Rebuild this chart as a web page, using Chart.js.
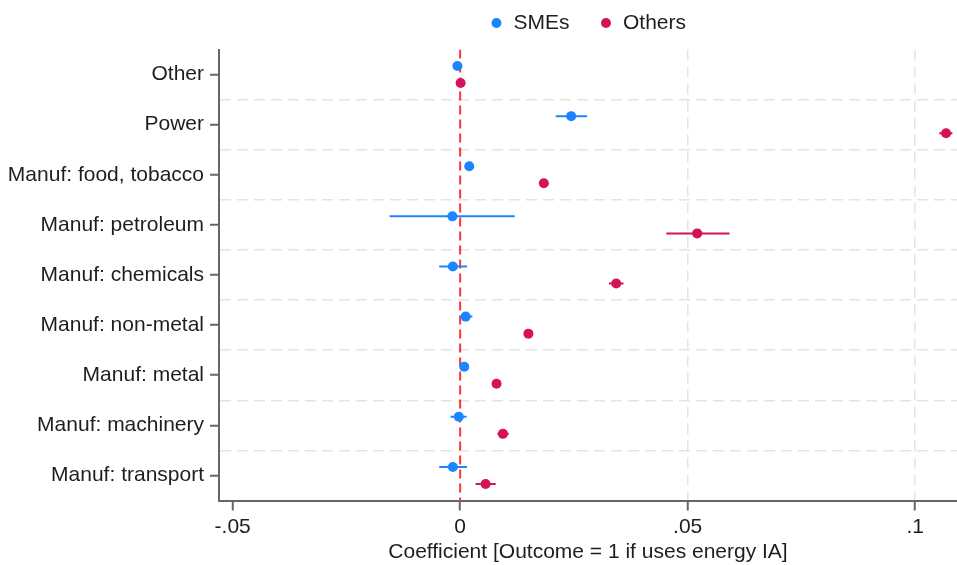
<!DOCTYPE html>
<html>
<head>
<meta charset="utf-8">
<script src="https://cdn.jsdelivr.net/npm/chart.js@4"></script>
<style>
  html, body { margin: 0; padding: 0; background: #ffffff; }
  #wrap { width: 957px; height: 565px; }
</style>
</head>
<body>
<div id="wrap"><canvas id="c" width="957" height="565"></canvas></div>
<script>
// ---- data ----
const categories = ["Other", "Power", "Manuf: food, tobacco", "Manuf: petroleum", "Manuf: chemicals",
                    "Manuf: non-metal", "Manuf: metal", "Manuf: machinery", "Manuf: transport"];
const smeCoef  = [-0.0006, 0.0244, 0.0020, -0.0017, -0.0016, 0.0012, 0.0009, -0.0003, -0.0016];
const smeLo    = [-0.0008, 0.0210, 0.0012, -0.0155, -0.0046, 0.0001, 0.0002, -0.0021, -0.0046];
const smeHi    = [-0.0004, 0.0279, 0.0028,  0.0120,  0.0015, 0.0027, 0.0016,  0.0014,  0.0015];
const othCoef  = [0.0001, 0.1068, 0.0184, 0.0521, 0.0343, 0.0150, 0.0080, 0.0094, 0.0056];
const othLo    = [-0.0001, 0.1053, 0.0176, 0.0453, 0.0327, 0.0142, 0.0073, 0.0082, 0.0034];
const othHi    = [0.0003, 0.1082, 0.0192, 0.0592, 0.0359, 0.0158, 0.0087, 0.0107, 0.0078];
const xTickValues = [-0.05, 0, 0.05, 0.1];
const xTickLabels = ["-.05", "0", ".05", ".1"];
const seriesNames = ["SMEs", "Others"];
const xTitle = "Coefficient [Outcome = 1 if uses energy IA]";

// ---- styling ----
const BLUE = "#1a85ff";
const RED = "#d41159";
const ZERO = "#ff3333";
const AXIS = "#666666";
const GRID = "#e4e4e4";
const TXT = "#1e1e1e";
const FONT = { family: "'Liberation Sans', Arial, sans-serif", size: 21 };
const OFF = 0.17;

const pts = (vals, off) => vals.map((v, i) => ({ x: v, y: i + 1 + off }));
const ci = (lo, hi, off) => {
  const out = [];
  lo.forEach((l, i) => {
    out.push({ x: l, y: i + 1 + off });
    out.push({ x: hi[i], y: i + 1 + off });
    out.push({ x: null, y: null });
  });
  return out;
};

const noPad = (s) => { s.paddingLeft = 0; s.paddingRight = 0; s.paddingTop = 0; s.paddingBottom = 0; };

new Chart(document.getElementById("c"), {
  type: "scatter",
  data: {
    datasets: [
      { label: seriesNames[0], data: pts(smeCoef, -OFF), backgroundColor: BLUE, borderColor: BLUE,
        pointRadius: 5, pointHoverRadius: 5, borderWidth: 0, showLine: false, xAxisID: "x", yAxisID: "y" },
      { label: seriesNames[1], data: pts(othCoef, OFF), backgroundColor: RED, borderColor: RED,
        pointRadius: 5, pointHoverRadius: 5, borderWidth: 0, showLine: false, xAxisID: "x", yAxisID: "y" },
      { label: "ci1", type: "line", data: ci(smeLo, smeHi, -OFF), borderColor: BLUE, borderWidth: 2,
        pointRadius: 0, spanGaps: false, fill: false, xAxisID: "x", yAxisID: "y" },
      { label: "ci2", type: "line", data: ci(othLo, othHi, OFF), borderColor: RED, borderWidth: 2,
        pointRadius: 0, spanGaps: false, fill: false, xAxisID: "x", yAxisID: "y" },
      { label: "zero", type: "line", data: [{ x: 0, y: 0.5 }, { x: 0, y: 9.5 }], borderColor: ZERO,
        borderWidth: 2, borderDash: [9, 5], pointRadius: 0, fill: false, xAxisID: "x", yAxisID: "y" }
    ]
  },
  options: {
    responsive: false,
    animation: false,
    events: [],
    layout: { autoPadding: false, padding: { top: -17.5, left: 0, right: 0, bottom: 0 } },
    plugins: {
      tooltip: { enabled: false },
      legend: {
        position: "top",
        align: "center",
        fullSize: false,
        labels: {
          filter: (item) => item.datasetIndex < 2,
          usePointStyle: true,
          pointStyle: "circle",
          boxWidth: 13,
          boxHeight: 7,
          padding: 30,
          color: TXT,
          font: FONT
        }
      }
    },
    scales: {
      x: {
        type: "linear", position: "bottom",
        min: -0.053, max: 0.1092,
        afterBuildTicks: (s) => { s.ticks = xTickValues.map(v => ({ value: v })); },
        afterFit: (s) => { s.height = 64.5; noPad(s); },
        ticks: {
          color: TXT, font: FONT, padding: 4, maxRotation: 0, autoSkip: false,
          callback: (v) => { const k = xTickValues.findIndex(t => Math.abs(t - v) < 1e-9); return k >= 0 ? xTickLabels[k] : ""; }
        },
        grid: {
          color: (ctx) => (ctx.tick && ctx.tick.value > 0.01) ? GRID : "rgba(0,0,0,0)",
          lineWidth: 1.5,
          tickColor: AXIS, tickWidth: 2, tickLength: 10, drawTicks: true
        },
        border: { display: true, color: AXIS, width: 2, dash: [11, 6] },
        title: { display: true, text: xTitle, color: TXT, font: FONT, padding: { top: 0, bottom: 0 } }
      },
      y: {
        type: "linear", position: "left", reverse: true,
        min: 0.5, max: 9.5,
        afterBuildTicks: (s) => {
          const t = [];
          for (let i = 0; i < categories.length; i++) {
            t.push({ value: i + 1 });
            if (i < categories.length - 1) t.push({ value: i + 1.5 });
          }
          s.ticks = t;
        },
        afterFit: (s) => { s.width = 219; noPad(s); },
        ticks: {
          color: TXT, font: FONT, padding: 6, autoSkip: false,
          callback: (v) => Number.isInteger(v) ? categories[v - 1] : ""
        },
        grid: {
          color: (ctx) => (ctx.tick && !Number.isInteger(ctx.tick.value)) ? GRID : "rgba(0,0,0,0)",
          lineWidth: 1.5,
          tickColor: (ctx) => (ctx.tick && Number.isInteger(ctx.tick.value)) ? AXIS : "rgba(0,0,0,0)",
          tickWidth: 2, tickLength: 9
        },
        border: { display: true, color: AXIS, width: 2, dash: [11, 6] }
      },
      xTop: {
        type: "linear", position: "top", display: true,
        grid: { display: false }, border: { display: false }, ticks: { display: false },
        afterFit: (s) => { s.height = 6; noPad(s); }
      }
    }
  }
});
</script>
</body>
</html>
